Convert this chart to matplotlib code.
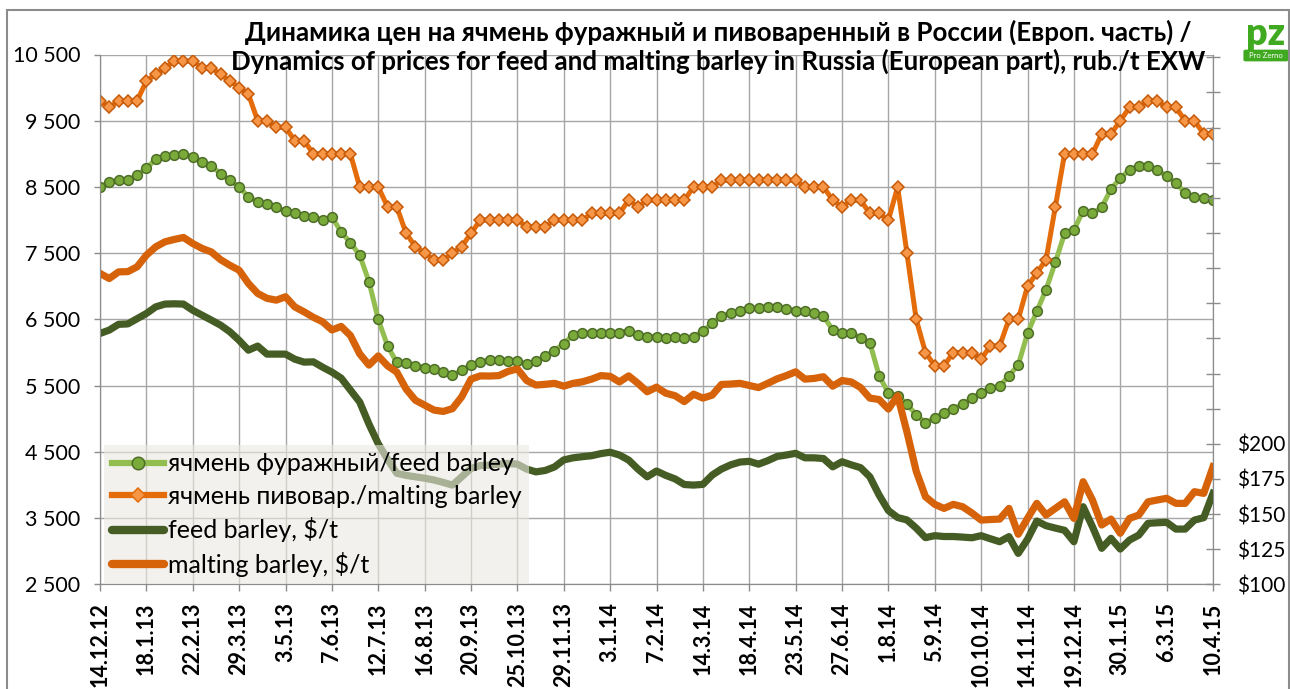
import matplotlib.pyplot as plt
from matplotlib.lines import Line2D
from matplotlib.patches import Rectangle, FancyBboxPatch
from matplotlib.ticker import FixedLocator, FuncFormatter

plt.rcParams['font.family'] = ['Lato', 'Open Sans', 'DejaVu Sans']

# tick labels, one every 5 weeks
dates = ['14.12.12', '18.1.13', '22.2.13', '29.3.13', '3.5.13', '7.6.13', '12.7.13',
         '16.8.13', '20.9.13', '25.10.13', '29.11.13', '3.1.14', '7.2.14', '14.3.14',
         '18.4.14', '23.5.14', '27.6.14', '1.8.14', '5.9.14', '10.10.14', '14.11.14',
         '19.12.14', '30.1.15', '6.3.15', '10.4.15']

# rub./t, feed barley
feed_rub = [8500, 8570, 8600, 8600, 8680, 8780, 8920, 8960, 8980, 9000,
            8950, 8880, 8820, 8700, 8600, 8500, 8350, 8280, 8240, 8190,
            8130, 8100, 8060, 8050, 8000, 8050, 7820, 7660, 7470, 7070,
            6500, 6100, 5850, 5840, 5800, 5770, 5750, 5700, 5660, 5730,
            5810, 5860, 5880, 5880, 5865, 5865, 5825, 5865, 5940, 6030,
            6130, 6270, 6290, 6300, 6300, 6300, 6300, 6330, 6270, 6240,
            6240, 6220, 6240, 6220, 6240, 6320, 6440, 6550, 6590, 6630,
            6670, 6670, 6690, 6690, 6660, 6630, 6620, 6590, 6550, 6340,
            6300, 6300, 6220, 6150, 5650, 5390, 5350, 5220, 5060, 4940,
            5010, 5090, 5150, 5220, 5310, 5390, 5460, 5490, 5650, 5810,
            6290, 6620, 6950, 7360, 7800, 7850, 8140, 8100, 8190, 8470,
            8630, 8760, 8810, 8820, 8760, 8660, 8560, 8410, 8350, 8330,
            8310]

# rub./t, malting barley
malt_rub = [9800, 9700, 9800, 9800, 9800, 10100, 10200, 10300, 10400, 10400,
            10400, 10300, 10300, 10200, 10100, 10000, 9900, 9500, 9500, 9400,
            9400, 9200, 9200, 9000, 9000, 9000, 9000, 9000, 8500, 8500,
            8500, 8200, 8200, 7800, 7600, 7500, 7400, 7400, 7500, 7600,
            7800, 8000, 8000, 8000, 8000, 8000, 7900, 7900, 7900, 8000,
            8000, 8000, 8000, 8100, 8100, 8100, 8100, 8300, 8200, 8300,
            8300, 8300, 8300, 8300, 8500, 8500, 8500, 8600, 8600, 8600,
            8600, 8600, 8600, 8600, 8600, 8600, 8500, 8500, 8500, 8300,
            8200, 8300, 8300, 8100, 8100, 8000, 8500, 7500, 6500, 6000,
            5800, 5800, 6000, 6000, 6000, 5900, 6100, 6100, 6500, 6500,
            7000, 7200, 7400, 8200, 9000, 9000, 9000, 9000, 9300, 9300,
            9500, 9700, 9700, 9800, 9800, 9700, 9700, 9500, 9500, 9300,
            9300]

# $/t, feed barley
feed_usd = [278.5, 280.9, 285.0, 285.3, 289.0, 292.7, 297.4, 299.4, 299.6, 299.4,
            295.0, 291.5, 288.0, 284.4, 279.7, 273.6, 266.6, 269.5, 263.8, 263.8,
            263.8, 260.2, 258.1, 258.3, 254.5, 251.0, 246.7, 238.2, 229.7, 214.0,
            200.0, 189.0, 179.0, 177.5, 176.5, 175.5, 174.2, 172.5, 170.6, 176.5,
            182.5, 184.5, 184.8, 185.5, 186.0, 185.5, 182.0, 180.0, 181.0, 183.5,
            188.5, 190.0, 190.8, 191.5, 193.0, 194.0, 192.0, 188.4, 182.0, 176.5,
            180.6, 177.5, 175.0, 171.0, 170.6, 171.1, 177.7, 182.0, 185.0, 187.0,
            187.5, 185.5, 188.0, 191.0, 192.0, 193.2, 190.0, 190.0, 189.5, 183.6,
            187.2, 185.0, 183.0, 176.5, 163.5, 152.5, 147.5, 145.8, 140.0, 133.2,
            134.6, 134.0, 134.0, 133.6, 133.1, 134.6, 132.4, 130.3, 133.9, 122.0,
            132.0, 145.0, 141.7, 140.0, 138.4, 130.3, 155.2, 141.0, 125.6, 132.7,
            125.1, 131.5, 135.0, 143.4, 143.8, 144.1, 139.3, 139.3, 145.7, 147.4,
            164.7]

# $/t, malting barley
malt_usd = [321.2, 317.6, 322.3, 322.5, 325.9, 334.2, 340.1, 343.7, 345.4, 346.8,
            342.5, 339.0, 336.5, 331.0, 327.0, 323.5, 314.1, 307.0, 303.5, 302.2,
            304.6, 297.4, 293.9, 290.0, 286.8, 281.0, 283.5, 277.0, 264.0, 256.0,
            262.5, 255.5, 251.0, 239.0, 231.0, 227.5, 224.0, 223.0, 225.0, 233.4,
            246.0, 248.3, 248.2, 248.5, 251.5, 253.3, 245.0, 241.8, 242.3, 243.0,
            241.0, 243.0, 244.1, 246.0, 248.5, 248.0, 244.0, 248.3, 243.0, 237.0,
            240.3, 236.0, 234.2, 230.0, 235.3, 232.5, 234.6, 242.2, 242.5, 243.0,
            241.5, 240.0, 243.0, 246.2, 248.5, 251.2, 246.0, 246.5, 247.7, 241.0,
            245.0, 244.0, 240.0, 232.5, 231.5, 224.7, 234.1, 208.5, 180.5, 162.3,
            156.9, 154.0, 156.9, 155.2, 150.8, 145.7, 146.1, 146.4, 154.0, 135.6,
            146.9, 157.6, 149.3, 154.0, 158.7, 146.9, 173.0, 160.0, 142.2, 146.4,
            136.3, 146.9, 149.3, 158.7, 160.0, 161.2, 157.6, 157.6, 165.9, 164.7,
            183.6]

labels = ['ячмень фуражный/feed barley', 'ячмень пивовар./malting barley',
          'feed barley, $/t', 'malting barley, $/t']

weeks = list(range(len(feed_rub)))

c_feed_line = '#92BE50'
c_feed_mark = '#7AAA3A'
c_feed_edge = '#4E6E28'
c_malt_line = '#E46C0A'
c_malt_mark = '#F79646'
c_malt_edge = '#C65A08'
c_feed_usd = '#455C24'
c_malt_usd = '#D6620A'
c_grid = '#A6A6A6'
c_axis = '#8C8C8C'

fig = plt.figure(figsize=(12.9, 6.89), dpi=100)
ax = fig.add_axes([100 / 1290, (689 - 584.3) / 689, 1113 / 1290, 529.8 / 689])
ax2 = ax.twinx()

l1, = ax.plot(weeks, feed_rub, color=c_feed_line, lw=3.6, marker='o', ms=7,
              mfc=c_feed_mark, mec=c_feed_edge, mew=1.1)
l2, = ax.plot(weeks, malt_rub, color=c_malt_line, lw=3.6, marker='D', ms=6.3,
              mfc=c_malt_mark, mec=c_malt_edge, mew=1.1)
l3, = ax2.plot(weeks, feed_usd, color=c_feed_usd, lw=5.2, solid_joinstyle='round')
l4, = ax2.plot(weeks, malt_usd, color=c_malt_usd, lw=5.2, solid_joinstyle='round')

# axes, ticks
ax.set_xlim(0, 120)
ax.set_ylim(2500, 10500)
ax2.set_ylim(100, 477)

ax.xaxis.set_major_locator(FixedLocator(range(0, 121, 5)))
ax.set_xticklabels(dates, rotation=90, fontweight='bold', fontsize=15.5, va='top')
ax.yaxis.set_major_locator(FixedLocator(range(2500, 10501, 1000)))
ax.yaxis.set_major_formatter(FuncFormatter(lambda v, p: f'{int(v):,}'.replace(',', ' ')))
ax.tick_params(axis='y', labelsize=15.5, length=4, width=1, color=c_axis, pad=10)
ax.tick_params(axis='x', length=5, width=1, color=c_axis, pad=8)

ax2.yaxis.set_major_locator(FixedLocator(range(100, 476, 25)))
ax2.yaxis.set_major_formatter(FuncFormatter(lambda v, p: f'${v:.0f}' if v <= 200 else ''))
ax2.tick_params(axis='y', labelsize=15, direction='inout', length=10, width=1,
                color=c_axis, pad=12)

ax.grid(True, color=c_grid, lw=1)
for s in ['top']:
    ax.spines[s].set_visible(False)
    ax2.spines[s].set_visible(False)
for s in ['left', 'bottom', 'right']:
    ax.spines[s].set_color(c_axis)
    ax2.spines[s].set_color(c_axis)

# legend
h1 = Line2D([], [], color=c_feed_line, lw=4.5, marker='o', ms=9,
            mfc=c_feed_mark, mec=c_feed_edge, mew=1.1)
h2 = Line2D([], [], color=c_malt_line, lw=4.5, marker='D', ms=7,
            mfc=c_malt_mark, mec=c_malt_line, mew=1.1)
h3 = Line2D([], [], color=c_feed_usd, lw=6, solid_capstyle='round')
h4 = Line2D([], [], color=c_malt_usd, lw=6, solid_capstyle='round')
leg = ax2.legend([h1, h2, h3, h4], labels, loc='lower left', bbox_to_anchor=(0.0036, 0.0),
                 fontsize=18, frameon=True, fancybox=False, borderaxespad=0,
                 handlelength=2.1, handletextpad=0.15, labelspacing=0.38,
                 borderpad=0.3)
leg.get_frame().set_facecolor('#EBE9E1')
leg.get_frame().set_edgecolor('none')
leg.get_frame().set_alpha(0.6)

# title
fig.text(718 / 1290, 1 - 41 / 689,
         'Динамика цен на ячмень фуражный и пивоваренный в России (Европ. часть) /',
         ha='center', va='baseline', fontsize=18.6, fontweight='bold')
fig.text(718 / 1290, 1 - 70 / 689,
         'Dynamics of prices for feed and malting barley in Russia (European part), rub./t EXW',
         ha='center', va='baseline', fontsize=18.6, fontweight='bold')

# logo
fig.text(1265 / 1290, 1 - 45 / 689, 'pz', ha='center', va='baseline', fontsize=27,
         fontweight='heavy', color='#3FAA1F')
fig.patches.append(FancyBboxPatch((1246 / 1290, 1 - 60 / 689), 40 / 1290, 9 / 689,
                                  boxstyle='round,pad=0.002', transform=fig.transFigure,
                                  facecolor='#3FAA1F', edgecolor='none'))
fig.text(1266 / 1290, 1 - 55.5 / 689, 'Pro Zerno', ha='center', va='center', fontsize=5.5,
         color='white')

# chart border
fig.patches.append(Rectangle((7 / 1290, -0.01), 1282 / 1290, 1 - 10 / 689 + 0.01,
                             transform=fig.transFigure, fill=False,
                             edgecolor=c_axis, lw=1.5))

fig.savefig('out.png', dpi=100)
